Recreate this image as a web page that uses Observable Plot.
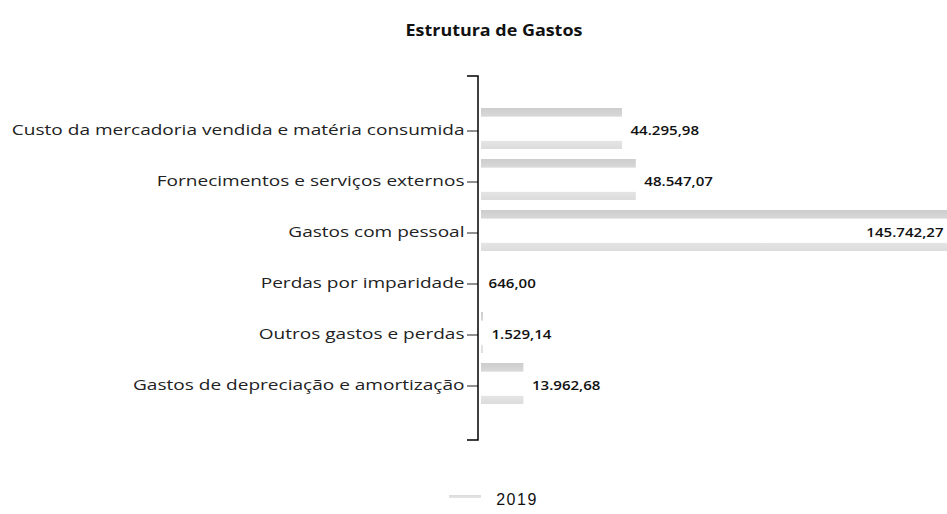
<!DOCTYPE html>
<html><head><meta charset="utf-8">
<script src="https://cdn.jsdelivr.net/npm/d3@7"></script>
<script src="https://cdn.jsdelivr.net/npm/@observablehq/plot@0.6"></script>
<style>
body{margin:0;background:#fff;width:947px;height:514px;overflow:hidden;font-family:"Open Sans",sans-serif;}
#title{height:60px;box-sizing:border-box;padding-top:20px;padding-left:40px;text-align:center;line-height:20px;}
#title span{display:inline-block;font-weight:700;font-size:16px;color:#111;transform:scaleX(1.12);}
#chart svg{display:block;overflow:hidden;}
#legend{height:44px;box-sizing:border-box;padding-top:16px;padding-left:40px;display:flex;justify-content:center;align-items:center;gap:15px;}
#legend .sw{width:32px;height:10px;background:linear-gradient(#dcdcdc 0,#e4e4e4 30%,#fff 35%,#fff 100%);}
#legend .lb{font-family:"Liberation Sans",Arial,sans-serif;font-size:16px;letter-spacing:1.5px;color:#111;}
</style></head>
<body>
<div id="title"><span>Estrutura de Gastos</span></div>
<div id="chart"></div>
<div id="legend"><div class="sw"></div><div class="lb">2019</div></div>
<script>
const categories = [
  "Custo da mercadoria vendida e matéria consumida",
  "Fornecimentos e serviços externos",
  "Gastos com pessoal",
  "Perdas por imparidade",
  "Outros gastos e perdas",
  "Gastos de depreciação e amortização"
];
const values = [44295.98, 48547.07, 145742.27, 646.00, 1529.14, 13962.68];
const seriesName = "2019";
const xMax = 144300;

const data = categories.map((c, i) => ({category: c, value: values[i]}));
const fmt = d3.formatLocale({decimal: ",", thousands: ".", grouping: [3], currency: ["", "€"]}).format(",.2f");

const gradient = () => {
  const defs = d3.create("svg:defs");
  const lg = defs.append("linearGradient").attr("id", "barGrad")
    .attr("x1", 0).attr("y1", 0).attr("x2", 0).attr("y2", 1);
  [[0, "#cdcdcd"], [0.2, "#d8d8d8"], [0.22, "#ffffff"], [0.79, "#ffffff"], [0.81, "#e4e4e4"], [1, "#dcdcdc"]]
    .forEach(([o, c]) => lg.append("stop").attr("offset", o).attr("stop-color", c));
  return defs.node();
};

const bracket = (index, scales, values, d) => {
  return d3.create("svg:path")
    .attr("d", `M${d.marginLeft - 11},${d.marginTop}H${d.marginLeft}V${d.height - d.marginBottom}H${d.marginLeft - 11}`)
    .attr("fill", "none").attr("stroke", "#000").attr("stroke-width", 1.5).node();
};

const plot = Plot.plot({
  width: 947,
  height: 410,
  marginLeft: 478,
  marginRight: 0,
  marginTop: 16,
  marginBottom: 30,
  style: {fontFamily: "'Open Sans', sans-serif", fontSize: "14px", color: "#222", background: "#fff"},
  x: {domain: [0, xMax], axis: null},
  y: {domain: categories, paddingInner: 0.2, paddingOuter: 0.61, label: null, tickSize: 11, tickPadding: 3},
  marks: [
    gradient,
    Plot.barX(data, {x: "value", y: "category", fill: "url(#barGrad)", insetLeft: 3, dy: -2}),
    bracket,
    Plot.text(data.filter(d => d.value <= xMax), {x: "value", y: "category", text: d => fmt(d.value), textAnchor: "start", dx: 8, fontSize: 13, fontWeight: 600, fill: "#111", className: "vlab"}),
    Plot.text(data.filter(d => d.value > xMax), {y: "category", text: d => fmt(d.value), frameAnchor: "right", textAnchor: "end", dx: -4, fontSize: 13, fontWeight: 600, fill: "#111", className: "vlab"})
  ]
});
document.getElementById("chart").appendChild(plot);

// horizontal stretch of text, as in the reference
function stretch(sel, k) {
  plot.querySelectorAll(sel).forEach(t => {
    const len = t.getComputedTextLength();
    t.setAttribute("textLength", (len * k).toFixed(1));
    t.setAttribute("lengthAdjust", "spacingAndGlyphs");
  });
}
stretch('g[aria-label="y-axis tick label"] text', 1.36);
stretch('.vlab text', 1.16);
</script>
</body></html>
